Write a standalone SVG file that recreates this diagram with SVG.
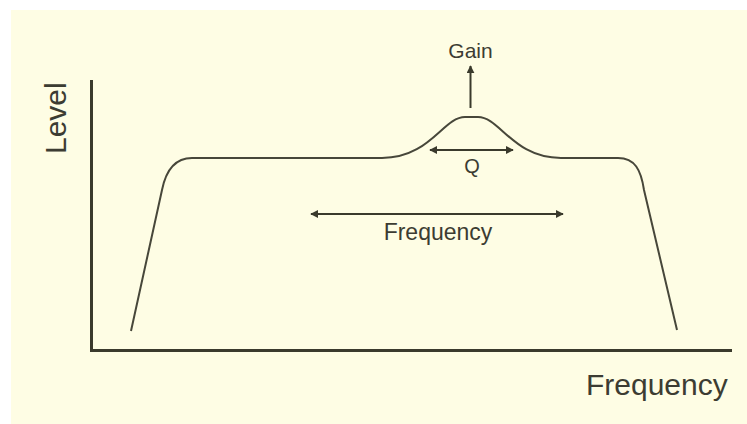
<svg xmlns="http://www.w3.org/2000/svg" width="747" height="424" viewBox="0 0 747 424">
  <style>
    .axis { stroke: #3a3a2c; stroke-width: 3; fill: none; }
    .curve { stroke: #47473a; stroke-width: 2; fill: none; stroke-linejoin: round; }
    .dim { stroke: #3a3a2c; stroke-width: 2; fill: none; }
    text { font-family: "Liberation Sans", Arial, sans-serif; fill: #3c3c32; }
  </style>
  <defs>
    <marker id="head" viewBox="0 0 10 10" refX="9" refY="5" markerWidth="4" markerHeight="4" orient="auto-start-reverse">
      <path d="M0,0 L10,5 L0,10 Z" fill="#3a3a2c"/>
    </marker>
  </defs>

  <!-- backdrop -->
  <rect x="11" y="10" width="736" height="414" fill="#fefde4"/>

  <!-- axes -->
  <g id="axes">
    <path class="axis" d="M91.5,80 L91.5,350.5 L732,350.5"/>
    <text x="66" y="154" font-size="30" transform="rotate(-90 66 154)">Level</text>
    <text x="586" y="395" font-size="30">Frequency</text>
  </g>

  <!-- response curve with a peaking band -->
  <g id="response">
    <path class="curve" d="M131,331 L162,190 C166,170 175,158 192,158 L382,158 C430,158 443,117 465,117 L478,117 C500,117 513,158 561,158 L618,158 C635,158 641,170 644,190 L677,330"/>
  </g>

  <!-- parameter indicators -->
  <g id="connectors">
    <line class="dim" x1="470.5" y1="108" x2="470.5" y2="66" marker-end="url(#head)"/>
    <line class="dim" x1="430" y1="150" x2="513" y2="150" marker-start="url(#head)" marker-end="url(#head)"/>
    <line class="dim" x1="311" y1="214" x2="563" y2="214" marker-start="url(#head)" marker-end="url(#head)"/>
  </g>

  <g id="gain-label">
    <text x="470.5" y="57.5" font-size="21" text-anchor="middle">Gain</text>
  </g>
  <g id="q-label">
    <text x="472" y="173" font-size="20" text-anchor="middle">Q</text>
  </g>
  <g id="frequency-label">
    <text x="438" y="240" font-size="23" text-anchor="middle">Frequency</text>
  </g>
</svg>
